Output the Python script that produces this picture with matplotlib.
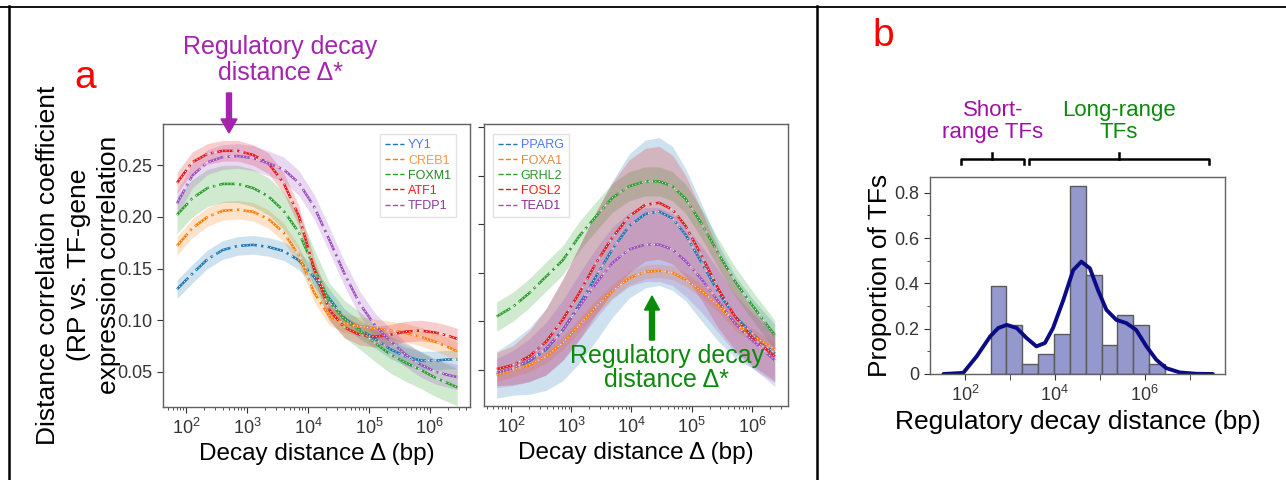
import numpy as np
import matplotlib
matplotlib.use('Agg')
import matplotlib.pyplot as plt
from matplotlib.lines import Line2D

plt.rcParams['font.family'] = ['Liberation Sans', 'DejaVu Sans']
plt.rcParams['mathtext.fontset'] = 'custom'
plt.rcParams['mathtext.rm'] = 'Liberation Sans'
plt.rcParams['mathtext.it'] = 'Liberation Sans:italic'
plt.rcParams['mathtext.bf'] = 'Liberation Sans:bold'

# ---- panel a, left: log10(decay distance) and correlation curves
left_logx = [1.85, 2.1, 2.35, 2.6, 2.85, 3.1, 3.35, 3.6, 3.85, 4.1,
             4.35, 4.6, 4.85, 5.1, 5.35, 5.6, 5.85, 6.1, 6.3, 6.45]
left_names = ['YY1', 'CREB1', 'FOXM1', 'ATF1', 'TFDP1']
yy1 = [0.130, 0.145, 0.159, 0.168, 0.172, 0.173, 0.171, 0.167, 0.158, 0.142,
       0.121, 0.102, 0.091, 0.082, 0.072, 0.065, 0.061, 0.061, 0.062, 0.062]
creb1 = [0.172, 0.189, 0.200, 0.206, 0.207, 0.205, 0.198, 0.185, 0.163, 0.127,
         0.104, 0.097, 0.094, 0.092, 0.090, 0.088, 0.084, 0.079, 0.074, 0.070]
foxm1 = [0.202, 0.218, 0.228, 0.232, 0.232, 0.228, 0.220, 0.206, 0.185, 0.151,
         0.118, 0.101, 0.090, 0.078, 0.067, 0.059, 0.052, 0.044, 0.039, 0.035]
atf1 = [0.233, 0.253, 0.261, 0.264, 0.264, 0.260, 0.252, 0.233, 0.201, 0.150,
        0.110, 0.093, 0.086, 0.084, 0.086, 0.089, 0.090, 0.088, 0.085, 0.082]
tfdp1 = [0.213, 0.240, 0.253, 0.258, 0.259, 0.257, 0.252, 0.246, 0.233, 0.210,
         0.178, 0.145, 0.116, 0.095, 0.080, 0.067, 0.057, 0.050, 0.047, 0.045]
left_spread = [0.009, 0.009, 0.018, 0.010, 0.012]

# ---- panel a, right
right_logx = [1.76, 2.03, 2.30, 2.58, 2.86, 3.13, 3.41, 3.68, 3.96, 4.23,
              4.46, 4.68, 4.90, 5.17, 5.45, 5.72, 6.0, 6.38]
right_names = ['PPARG', 'FOXA1', 'GRHL2', 'FOSL2', 'TEAD1']
pparg = [0.045, 0.052, 0.059, 0.071, 0.091, 0.117, 0.146, 0.174, 0.198, 0.2105,
         0.213, 0.206, 0.189, 0.160, 0.129, 0.105, 0.088, 0.067]
foxa1 = [0.045, 0.050, 0.055, 0.064, 0.078, 0.096, 0.115, 0.131, 0.1445, 0.151,
         0.152, 0.150, 0.143, 0.131, 0.116, 0.098, 0.086, 0.071]
grhl2 = [0.105, 0.115, 0.129, 0.146, 0.163, 0.1875, 0.208, 0.227, 0.239, 0.244,
         0.244, 0.239, 0.226, 0.200, 0.169, 0.141, 0.117, 0.086]
fosl2 = [0.051, 0.055, 0.064, 0.079, 0.102, 0.129, 0.160, 0.186, 0.208, 0.220,
         0.222, 0.215, 0.198, 0.167, 0.1325, 0.105, 0.084, 0.064]
tead1 = [0.047, 0.052, 0.060, 0.072, 0.091, 0.115, 0.139, 0.160, 0.174, 0.179,
         0.179, 0.174, 0.162, 0.143, 0.120, 0.098, 0.081, 0.060]
pparg_sd = [0.024, 0.028, 0.034, 0.042, 0.052, 0.060, 0.066, 0.070, 0.074, 0.076,
            0.076, 0.074, 0.068, 0.060, 0.050, 0.042, 0.036, 0.030]
foxa1_sd = [0.007] * 18
grhl2_sd = [0.015] * 18
fosl2_sd = [0.017, 0.020, 0.026, 0.034, 0.042, 0.048, 0.053, 0.056, 0.058, 0.058,
            0.058, 0.056, 0.052, 0.046, 0.040, 0.034, 0.029, 0.025]
tead1_sd = [0.015, 0.018, 0.022, 0.027, 0.031, 0.034, 0.036, 0.037, 0.038, 0.038,
            0.038, 0.037, 0.036, 0.034, 0.032, 0.030, 0.028, 0.027]

# ---- panel b: histogram of regulatory decay distances (log10 bp)
hist_edges = [2.57, 2.92, 3.28, 3.63, 3.98, 4.33, 4.69, 5.04, 5.39, 5.74, 6.10, 6.45]
hist_heights = [0.390, 0.217, 0.044, 0.088, 0.176, 0.829, 0.436, 0.129, 0.261, 0.217, 0.044]
kde_logx = [1.52, 1.96, 2.26, 2.56, 2.74, 2.93, 3.15, 3.37, 3.59, 3.78, 3.96, 4.19, 4.41,
            4.59, 4.78, 4.96, 5.15, 5.37, 5.59, 5.81, 6.04, 6.26, 6.48, 6.78, 7.15, 7.52]
kde_vals = [0.0, 0.005, 0.078, 0.166, 0.203, 0.217, 0.203, 0.159, 0.122, 0.137, 0.203,
            0.327, 0.459, 0.496, 0.467, 0.371, 0.283, 0.239, 0.225, 0.195, 0.122, 0.063,
            0.026, 0.007, 0.001, 0.0]

line_colors = ['#1f77b4', '#ff7f0e', '#2ca02c', '#e41a1c', '#9b4fc0']
left_text_colors = ['#4a7af0', '#f59a4a', '#1f8a1f', '#ff1a1a', '#8a3a9a']
right_text_colors = ['#4a7af0', '#e8883a', '#2a9a2a', '#ff1a1a', '#8a2a9a']

W, H = 1286, 480
fig = plt.figure(figsize=(W / 100, H / 100), dpi=100)


def box(x0, y0, x1, y1):
    return [x0 / W, 1 - y1 / H, (x1 - x0) / W, (y1 - y0) / H]


def style_axes(ax):
    for s in ax.spines.values():
        s.set_color('#606060')
        s.set_linewidth(1.0)
    ax.tick_params(which='both', direction='out', colors='#333333', labelsize=13)
    ax.tick_params(which='major', length=4)
    ax.tick_params(which='minor', length=2)


def draw_curves(ax, logx, series, spreads):
    x = 10 ** np.array(logx)
    for vals, sd, c in zip(series, spreads, line_colors):
        vals = np.array(vals)
        sd = np.array(sd)
        ax.fill_between(x, vals - sd, vals + sd, color=c, alpha=0.22, lw=0)
    for vals, c in zip(series, line_colors):
        ax.plot(x, vals, color=c, lw=1.8, ls='-.')
        ax.plot(x, vals, color='white', lw=0.7, ls=(0, (1, 2.5)))


# left panel a
ax1 = fig.add_axes(box(163, 124, 470, 407))
draw_curves(ax1, left_logx, [yy1, creb1, foxm1, atf1, tfdp1], left_spread)
ax1.set_xscale('log')
ax1.set_xlim(10 ** 1.62, 10 ** 6.66)
ax1.set_ylim(0.016, 0.29)
ax1.set_yticks([0.05, 0.10, 0.15, 0.20, 0.25])
ax1.set_yticklabels(['0.05', '0.10', '0.15', '0.20', '0.25'])
style_axes(ax1)
handles = [Line2D([], [], color=c, ls='--', lw=1) for c in line_colors]
ax1.legend(handles, left_names, loc='upper right', fontsize=9, handlelength=1.5,
           handletextpad=0.3, labelspacing=0.25, borderpad=0.4, fancybox=False,
           edgecolor='#dddddd', labelcolor=left_text_colors,
           bbox_to_anchor=(0.975, 0.985))

# right panel a
ax2 = fig.add_axes(box(484, 124, 788, 406))
draw_curves(ax2, right_logx, [pparg, foxa1, grhl2, fosl2, tead1],
            [pparg_sd, foxa1_sd, grhl2_sd, fosl2_sd, tead1_sd])
ax2.set_xscale('log')
ax2.set_xlim(10 ** 1.55, 10 ** 6.6)
ax2.set_ylim(0.013, 0.303)
ax2.set_yticks([0.05, 0.10, 0.15, 0.20, 0.25, 0.30])
ax2.set_yticklabels([])
style_axes(ax2)
ax2.legend(handles, right_names, loc='upper left', fontsize=9, handlelength=1.5,
           handletextpad=0.3, labelspacing=0.25, borderpad=0.4, fancybox=False,
           edgecolor='#dddddd', labelcolor=right_text_colors,
           bbox_to_anchor=(0.01, 0.985))

for ax in (ax1, ax2):
    ax.set_xlabel('Decay distance Δ (bp)', fontsize=17.5, labelpad=4)

# y label of panel a, one text per line
for xp, line in [(48, 'Distance correlation coefficient'), (79, '(RP vs. TF-gene'),
                 (109, 'expression correlation')]:
    fig.text(xp / W, 1 - 265 / H, line, rotation=90, ha='center', va='center', fontsize=19)

purple = '#a424b0'
green = '#0a8a0a'
fig.text(280 / W, 1 - 60 / H, 'Regulatory decay\ndistance Δ*', color=purple,
         fontsize=18, ha='center', va='center', linespacing=1.15)
fig.text(85 / W, 1 - 78 / H, 'a', color='red', fontsize=28, ha='center', va='center')
fig.add_artist(matplotlib.patches.FancyArrow(229 / W, 1 - 93 / H, 0, -(40 / H),
               width=5 / W, head_width=16 / W, head_length=14 / H,
               length_includes_head=True, color=purple, transform=fig.transFigure))
fig.add_artist(matplotlib.patches.FancyArrow(652 / W, 1 - 340 / H, 0, 44 / H,
               width=5 / W, head_width=15 / W, head_length=14 / H,
               length_includes_head=True, color=green, transform=fig.transFigure))
fig.text(667 / W, 1 - 368 / H, 'Regulatory decay\ndistance Δ*', color=green,
         fontsize=18, ha='center', va='center', linespacing=0.95)

# panel b
ax3 = fig.add_axes(box(930, 177, 1225, 374))
edges = np.array(hist_edges)
ax3.bar(edges[:-1], hist_heights, width=np.diff(edges), align='edge',
        color='#9498cc', edgecolor='#5a5a5a', linewidth=1.0)
ax3.plot(kde_logx, kde_vals, color='#0b0b85', lw=2.8, solid_capstyle='round')
ax3.set_xlim(1.22, 7.79)
ax3.set_ylim(0, 0.87)
ax3.set_xticks([2, 4, 6])
ax3.set_xticklabels(['$10^{2}$', '$10^{4}$', '$10^{6}$'])
ax3.set_xticks([3, 5, 7], minor=True)
ax3.set_yticks([0, 0.2, 0.4, 0.6, 0.8])
ax3.set_yticklabels(['0', '0.2', '0.4', '0.6', '0.8'])
ax3.set_yticks([0.1, 0.3, 0.5, 0.7], minor=True)
style_axes(ax3)
ax3.tick_params(axis='x', which='minor', length=4)
ax3.set_xlabel('Regulatory decay distance (bp)', fontsize=19, labelpad=4)
ax3.set_ylabel('Proportion of TFs', fontsize=19, labelpad=2)

# brackets above panel b
tr = ax3.get_xaxis_transform()
for x0, x1, xm in [(1.90, 3.32, 2.61), (3.43, 7.43, 5.43)]:
    ax3.plot([x0, x0, x1, x1], [1.066, 1.091, 1.091, 1.066], color='black', lw=1.8,
             transform=tr, clip_on=False)
    ax3.plot([xm, xm], [1.091, 1.122], color='black', lw=1.8, transform=tr, clip_on=False)
ax3.text(2.62, 1.28, 'Short-\nrange TFs', color='#a010a8', fontsize=16, ha='center',
         va='center', transform=tr, linespacing=1.05)
ax3.text(5.43, 1.28, 'Long-range\nTFs', color='#0a8a0a', fontsize=16, ha='center',
         va='center', transform=tr, linespacing=1.05)
fig.text(883 / W, 1 - 36 / H, 'b', color='red', fontsize=28, ha='center', va='center')

# table borders around the panels
fig.add_artist(Line2D([0, 1], [1 - 6.5 / H, 1 - 6.5 / H], color='black', lw=1.3,
                      transform=fig.transFigure))
fig.add_artist(Line2D([9 / W, 9 / W], [0, 1 - 6 / H], color='black', lw=1.8,
                      transform=fig.transFigure))
fig.add_artist(Line2D([817 / W, 817 / W], [0, 1 - 6 / H], color='black', lw=1.8,
                      transform=fig.transFigure))

fig.savefig('out.png', dpi=100)
